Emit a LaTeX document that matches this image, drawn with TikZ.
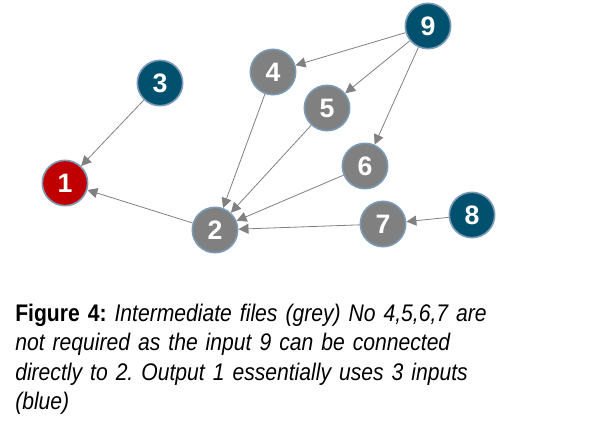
\documentclass[tikz,border=0pt]{standalone}
\usepackage{fontspec}
\setmainfont{Liberation Sans}
\newfontfamily\captionfont{Liberation Sans}[FakeStretch=0.88]
\usepackage{xcolor}
\usetikzlibrary{positioning, arrows.meta}
\definecolor{outred}{HTML}{C00000}
\definecolor{inblue}{HTML}{00506E}
\definecolor{midgrey}{HTML}{808080}
\definecolor{rimblue}{HTML}{7A9AB5}
\frenchspacing

\begin{document}
\begin{tikzpicture}
            [
            x=0.75pt, y=-0.75pt,
            vertex/.style={circle,draw=rimblue,line width=1.2pt,minimum size=34pt,inner sep=0pt,
                text=white,font=\fontsize{20}{20}\selectfont\bfseries},
            output/.style={vertex,fill=outred},
            input/.style={vertex,fill=inblue},
            interm/.style={vertex,fill=midgrey},
            edge/.style={draw=midgrey,line width=0.6pt,-{Triangle[length=7.5pt,width=7.5pt]}}
            ]
        \useasboundingbox (0,0) rectangle (605,432);
        \node[output] (1) at (65,183) {1};
        \node[interm] (2) at (215,230) {2};
        \node[input] (3) at (160,83) {3};
        \node[interm] (4) at (273,72) {4};
        \node[interm] (5) at (327,108) {5};
        \node[interm] (6) at (365,166) {6};
        \node[interm] (7) at (383,224) {7};
        \node[input] (8) at (472,215) {8};
        \node[input] (9) at (428,26) {9};
        \draw[edge] (3) -- (1);
        \draw[edge] (2) -- (1);
        \draw[edge] (4) -- (2);
        \draw[edge] (5) -- (2);
        \draw[edge] (6) -- (2);
        \draw[edge] (7) -- (2);
        \draw[edge] (9) -- (4);
        \draw[edge] (9) -- (5);
        \draw[edge] (9) -- (6);
        \draw[edge] (8) -- (7);
        % caption
        \node[anchor=north west,align=left,text width=420pt,inner sep=0pt,
            font=\captionfont\fontsize{18}{22}\selectfont] (caption) at (15,304)
            {\textbf{Figure 4:} \textit{Intermediate files (grey) No 4,5,6,7 are}\\
             \textit{not required as the input 9 can be connected}\\
             \textit{directly to 2. Output 1 essentially uses 3 inputs}\\
             \textit{(blue)}};
        \end{tikzpicture}
\end{document}
